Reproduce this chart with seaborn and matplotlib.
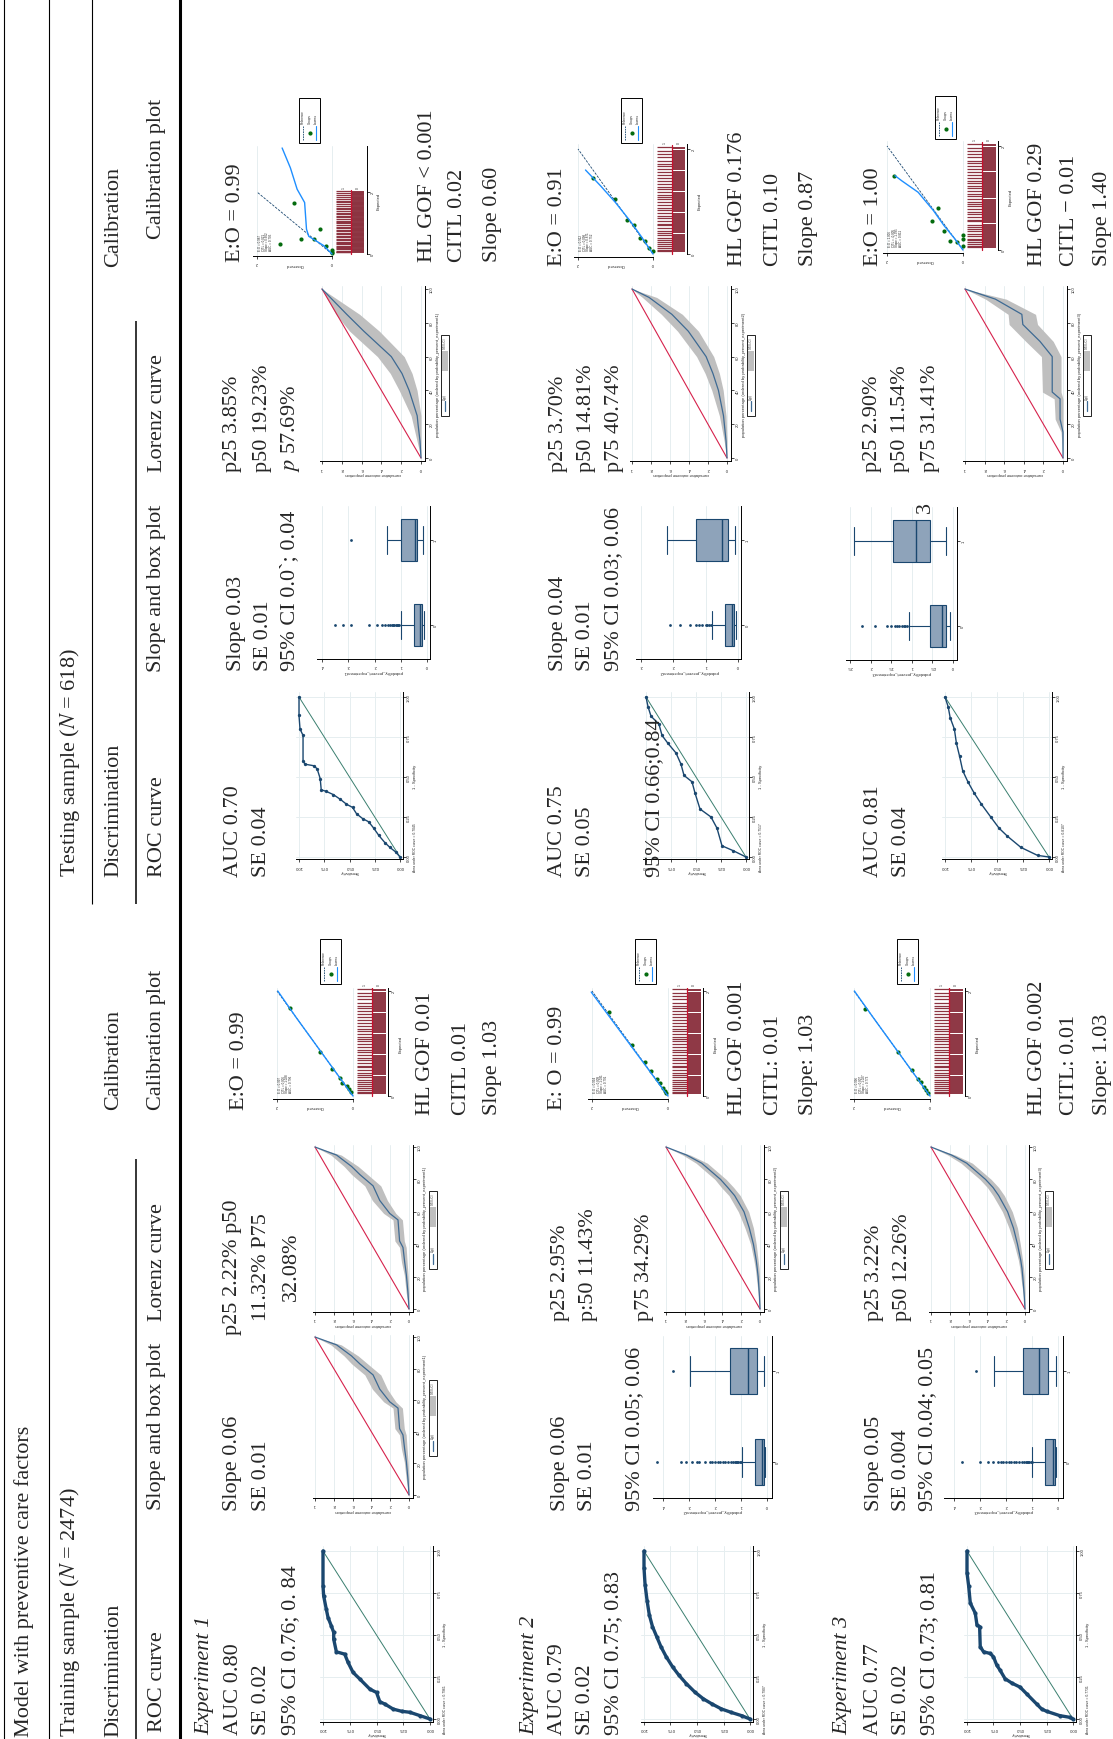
import numpy as np
import seaborn as sns
import matplotlib.pyplot as plt
import matplotlib.transforms as mtransforms
from matplotlib.lines import Line2D
from matplotlib.patches import Rectangle

# ------------------------------- DATA -----------------------------------------
# ROC curves: sensitivity vs 1 - specificity (training / testing, experiments 1-3)
roc_train_sens = [
    [0, .094, .188, .266, .344, .422, .469, .5, .5625, .656, .719, .766, .797, .875, .9, .9, .922, .953, .969, .994, 1.0, 1.0],
    [0, .08, .18, .27, .36, .44, .52, .60, .67, .73, .79, .84, .88, .92, .95, .97, .99, 1.0, 1.0],
    [0, .031, .125, .25, .297, .344, .4375, .5, .578, .641, .6875, .719, .75, .781, .844, .875, .881, .906, .922, .969, .984, 1.0, 1.0],
]
roc_train_spec = [
    [0, .02, .04, .046, .059, .089, .103, .158, .178, .238, .277, .337, .386, .40, .475, .515, .554, .604, .653, .733, .792, 1.0],
    [0, .02, .04, .06, .09, .12, .16, .21, .26, .31, .37, .43, .49, .55, .62, .70, .80, .90, 1.0],
    [0, .01, .02, .046, .06, .09, .15, .19, .214, .24, .29, .32, .37, .39, .40, .43, .55, .56, .63, .69, .79, .87, 1.0],
]
roc_test_sens = [
    [0, .04, .10, .15, .21, .26, .31, .37, .43, .47, .53, .59, .66, .73, .78, .79, .82, .85, .94, .96, .96, .99, 1.0, 1.0],
    [0, .13, .24, .29, .35, .46, .51, .54, .62, .65, .70, .78, .84, .87, .95, .98, 1.0],
    [0, .11, .27, .40, .48, .56, .65, .72, .78, .83, .86, .89, .91, .95, .97, 1.0],
]
roc_test_spec = [
    [0, .03, .06, .09, .135, .18, .22, .24, .27, .31, .33, .36, .39, .41, .42, .49, .55, .57, .58, .60, .76, .80, .885, 1.0],
    [0, .04, .07, .18, .25, .30, .40, .47, .51, .58, .65, .71, .76, .83, .88, .94, 1.0],
    [0, .01, .06, .13, .18, .25, .33, .40, .47, .54, .63, .71, .80, .87, .94, 1.0],
]
roc_train_notes = ['Area under ROC curve = 0.7961', 'Area under ROC curve = 0.7907', 'Area under ROC curve = 0.7731']
roc_test_notes = ['Area under ROC curve = 0.7045', 'Area under ROC curve = 0.7517', 'Area under ROC curve = 0.8107']

# Lorenz curves: population percentage, cumulative outcome proportion, 95% CI
lor_train_pop = [
    [0, 10, 21, 29, 38, 42, 55, 59, 67, 76, 83, 88, 95, 100],
    [0, 10, 20, 25, 30, 40, 50, 60, 70, 75, 80, 90, 95, 100],
    [0, 10, 20, 25, 30, 40, 50, 60, 70, 75, 80, 90, 95, 100],
]
lor_train_cum = [
    [0, .011, .028, .046, .064, .10, .117, .205, .311, .382, .523, .611, .77, 1.0],
    [0, .008, .02, .0295, .04, .07, .114, .17, .27, .343, .42, .62, .78, 1.0],
    [0, .01, .024, .032, .045, .08, .123, .185, .28, .34, .42, .62, .78, 1.0],
]
lor_train_lo = [
    [0, 0, .01, .02, .03, .05, .07, .14, .23, .30, .44, .54, .72, 1.0],
    [0, 0, .005, .01, .02, .04, .07, .12, .21, .28, .36, .56, .74, 1.0],
    [0, 0, .008, .015, .025, .05, .08, .135, .22, .28, .36, .56, .74, 1.0],
]
lor_train_hi = [
    [0, .03, .05, .08, .10, .15, .17, .27, .39, .47, .61, .69, .83, 1.0],
    [0, .02, .04, .05, .065, .10, .16, .23, .33, .41, .48, .68, .82, 1.0],
    [0, .022, .045, .055, .07, .115, .17, .24, .34, .40, .48, .68, .82, 1.0],
]
lor_test_pop = [
    [0, 10, 20, 25, 40, 50, 60, 75, 85, 100],
    [0, 10, 25, 40, 50, 60, 75, 85, 95, 100],
    [0, 15.4, 23, 35, 39, 60, 69, 79, 85, 94, 100],
]
lor_test_cum = [
    [0, .01, .03, .0385, .12, .192, .30, .577, .75, 1.0],
    [0, .01, .037, .09, .148, .22, .407, .58, .82, 1.0],
    [0, 0, .03, .03, .11, .11, .235, .41, .42, .69, 1.0],
]
lor_test_lo = [
    [0, 0, 0, 0, .04, .09, .17, .42, .62, 1.0],
    [0, 0, .01, .04, .08, .14, .30, .47, .74, 1.0],
    [0, 0, 0, 0, .02, .02, .10, .26, .28, .58, 1.0],
]
lor_test_hi = [
    [0, .04, .08, .10, .22, .31, .44, .72, .86, 1.0],
    [0, .03, .08, .16, .23, .32, .52, .69, .89, 1.0],
    [0, .02, .08, .09, .21, .22, .38, .55, .56, .79, 1.0],
]

# Box plots: (lower whisker, q1, median, q3, upper whisker) by outcome 0 / 1
box_train_stats = [
    None,
    [[.006, .011, .020, .048, .097], [.011, .039, .074, .143, .295]],
    [[.006, .013, .019, .050, .100], [.006, .038, .073, .135, .245]],
]
box_train_out0 = [
    None,
    [.10, .105, .11, .115, .12, .125, .13, .14, .15, .16, .17, .18, .19, .20, .21, .22, .24, .26, .27, .29, .31, .33, .425],
    [.10, .105, .11, .115, .12, .125, .13, .14, .15, .16, .17, .18, .19, .20, .21, .22, .23, .25, .27, .30, .37],
]
box_train_out1 = [None, [.36], [.315]]
box_test_stats = [
    [[.010, .019, .025, .051, .100], [.015, .038, .044, .100, .152]],
    [[.005, .012, .020, .040, .080], [.010, .030, .050, .130, .220]],
    [[.008, .016, .026, .056, .108], [.018, .056, .090, .146, .240]],
]
box_test_out0 = [
    [.105, .11, .115, .12, .125, .13, .135, .14, .15, .16, .17, .19, .22, .29, .32, .35],
    [.085, .09, .095, .10, .11, .12, .13, .15, .18, .21],
    [.112, .116, .12, .125, .13, .135, .14, .15, .16, .19, .22],
]
box_test_out1 = [[.29], [], []]

# Calibration plots: observed / expected for groups and lowess
cal_train_gobs = [[.05, .11, .16, .29, .33, .55, .88, 1.67],
                  [.04, .09, .14, .22, .30, .45, .60, .95, 1.55],
                  [.05, .10, .15, .24, .32, .48, .85, 1.70]]
cal_train_gexp = [[.08, .14, .19, .25, .35, .51, .83, 1.68],
                  [.05, .10, .16, .24, .33, .47, .65, .98, 1.60],
                  [.06, .12, .17, .26, .33, .50, .84, 1.66]]
cal_train_lobs = [[0, .5, 1.0, 1.5, 1.98], [0, .5, 1.0, 1.5, 2.02], [0, .5, 1.0, 1.5, 1.99]]
cal_train_lexp = [[0, .5, 1.0, 1.5, 2.0], [0, .49, .98, 1.47, 1.98], [0, .5, 1.0, 1.5, 2.0]]
cal_test_gobs = [[0, .16, .31, .49, .83, 1.38, 1.02, 0, 0],
                 [0, .10, .20, .35, .50, .70, 1.0, 1.6],
                 [.01, .01, .01, .17, .34, .50, .82, .66, 1.82]]
cal_test_gexp = [[.14, .27, .80, .48, .48, .32, 1.63, .05, .02],
                 [.05, .12, .25, .30, .55, .65, 1.05, 1.45],
                 [.08, .21, .29, .15, .18, .37, .56, .80, 1.43]]
cal_test_lobs = [[0, .22, .62, .68, .73, .93, 1.11, 1.33],
                 [0, .30, .60, 1.0, 1.40, 1.80],
                 [0, .21, .50, .78, 1.18, 1.61, 1.79]]
cal_test_lexp = [[0, .27, .57, .80, 1.66, 2.09, 2.78, 3.42],
                 [0, .32, .62, .98, 1.30, 1.60],
                 [0, .21, .47, .76, 1.11, 1.33, 1.43]]
cal_train_stats = [['E:O = 0.997', 'CITL = 0.006', 'Slope = 1.028', 'AUC = 0.796'],
                   ['E:O = 0.994', 'CITL = 0.009', 'Slope = 1.031', 'AUC = 0.791'],
                   ['E:O = 0.996', 'CITL = 0.007', 'Slope = 1.027', 'AUC = 0.773']]
cal_test_stats = [['E:O = 0.987', 'CITL = 0.021', 'Slope = 0.602', 'AUC = 0.705'],
                  ['E:O = 0.912', 'CITL = 0.098', 'Slope = 0.871', 'AUC = 0.752'],
                  ['E:O = 1.006', 'CITL = -0.005', 'Slope = 1.395', 'AUC = 0.811']]
# expected-probability rug (events above the base line, non-events below)
rug_events = [.05, .08, .11, .15, .19, .22, .27, .31, .36, .40, .44, .49, .55, .58, .63, .69, .73, .78, .84,
              .88, .93, .99, 1.04, 1.08, 1.13, 1.19, 1.24, 1.28, 1.33, 1.39, 1.45, 1.50, 1.56, 1.61, 1.67,
              1.72, 1.78, 1.84, 1.90, 1.97, 2.03]
rug_nonevents = [.05, .09, .13, .17, .21, .25, .29, .33, .37, .41, .45, .49, .53, .57, .61, .65, .69, .73,
                 .77, .81, .85, .89, .93, .97, 1.01, 1.05, 1.09, 1.13, 1.17, 1.21, 1.25, 1.29, 1.33, 1.37,
                 1.41, 1.45, 1.49, 1.53, 1.57, 1.61, 1.65, 1.69, 1.73, 1.77, 1.81, 1.85, 1.89, 1.93, 1.97, 2.01]

# Table text
headers_train = ['Training sample ($N$ = 2474)', 'Discrimination', 'Calibration']
headers_test = ['Testing sample ($N$ = 618)', 'Discrimination', 'Calibration']
col_names = ['ROC curve', 'Slope and box plot', 'Lorenz curve', 'Calibration plot']
exp_names = ['Experiment 1', 'Experiment 2', 'Experiment 3']
train_roc_text = [['AUC 0.80', 'SE 0.02', '95% CI 0.76; 0. 84'],
                  ['AUC 0.79', 'SE 0.02', '95% CI 0.75; 0.83'],
                  ['AUC 0.77', 'SE 0.02', '95% CI 0.73; 0.81']]
train_box_text = [['Slope 0.06', 'SE 0.01'],
                  ['Slope 0.06', 'SE 0.01', '95% CI 0.05; 0.06'],
                  ['Slope 0.05', 'SE 0.004', '95% CI 0.04; 0.05']]
train_lor_text = [['p25 2.22% p50', '11.32% P75', '32.08%'],
                  ['p25 2.95%', 'p:50 11.43%', 'p75 34.29%'],
                  ['p25 3.22%', 'p50 12.26%']]
train_eo_text = ['E:O = 0.99', 'E: O = 0.99', '']
train_cal_text = [['HL GOF 0.01', 'CITL 0.01', 'Slope 1.03'],
                  ['HL GOF 0.001', 'CITL: 0.01', 'Slope: 1.03'],
                  ['HL GOF 0.002', 'CITL: 0.01', 'Slope: 1.03']]
test_roc_text = [['AUC 0.70', 'SE 0.04'],
                 ['AUC 0.75', 'SE 0.05', '95% CI 0.66;0.84'],
                 ['AUC 0.81', 'SE 0.04']]
test_box_text = [['Slope 0.03', 'SE 0.01', '95% CI 0.0`; 0.04'],
                 ['Slope 0.04', 'SE 0.01', '95% CI 0.03; 0.06'],
                 []]
test_lor_text = [['p25 3.85%', 'p50 19.23%', '$p$ 57.69%'],
                 ['p25 3.70%', 'p50 14.81%', 'p75 40.74%'],
                 ['p25 2.90%', 'p50 11.54%', 'p75 31.41%']]
test_eo_text = ['E:O = 0.99', 'E:O = 0.91', 'E:O = 1.00']
test_cal_text = [['HL GOF < 0.001', 'CITL 0.02', 'Slope 0.60'],
                 ['HL GOF 0.176', 'CITL 0.10', 'Slope 0.87'],
                 ['HL GOF 0.29', 'CITL \u2212 0.01', 'Slope 1.40']]

# ------------------------------- STYLE ----------------------------------------
W, H = 1113, 1740
NAVY = '#1a476f'
LINE = '#3e6a93'
TEAL = '#3a7f6f'
CRIMSON = '#d6224c'
BAND = '#bfbfbf'
BOXFILL = '#8ea3ba'
GREEN = '#046b0e'
LOWESS = '#1f8fff'
RUGC = '#8c3441'
GRID = '#e6eef0'
SANS = 'Liberation Sans'
TFS = 3.0
DS = 16   # cell text size
HS = 16   # header size

sns.set_style('white')
plt.rcParams['font.family'] = ['Liberation Serif', 'DejaVu Serif']
plt.rcParams['mathtext.fontset'] = 'stix'

fig = plt.figure(figsize=(W / 100, H / 100), dpi=100)
fig.patch.set_facecolor('white')
# pixel coordinates, origin top-left
PX = mtransforms.Affine2D().scale(1 / W, -1 / H).translate(0, 1) + fig.transFigure


def vtext(x, y, s, size=DS, va='bottom', style='normal', family=None):
    kw = {'family': family} if family else {}
    fig.text(x, y, s, transform=PX, rotation=90, ha='center', va=va,
             fontsize=size, fontstyle=style, **kw)


def vline(x, y0, y1, lw):
    fig.add_artist(Line2D([x, x], [y0, y1], transform=PX, color='black', lw=lw,
                          solid_capstyle='butt'))


def rot_axes(href, vref, hlim, vlim):
    '''
    Axes for a graph turned 90 degrees: the horizontal axis carries the
    original y variable (growing leftwards), the vertical one the original x.
    href / vref: two (pixel, value) pairs each.
    '''
    (p0, a0), (p1, a1) = href
    (q0, b0), (q1, b1) = vref
    hp = [p0 + (v - a0) * (p1 - p0) / (a1 - a0) for v in hlim]
    vp = [q0 + (v - b0) * (q1 - q0) / (b1 - b0) for v in vlim]
    ax = fig.add_axes([min(hp) / W, 1 - max(vp) / H, abs(hp[1] - hp[0]) / W, abs(vp[1] - vp[0]) / H])
    xl = (hlim[0], hlim[1]) if hp[0] < hp[1] else (hlim[1], hlim[0])
    yl = (vlim[0], vlim[1]) if vp[0] > vp[1] else (vlim[1], vlim[0])
    return ax, xl, yl


def finish(ax, xl, yl, hticks, hlab, vticks, vlab, htitle, vtitle, grid_h=True, grid_v=False):
    ax.set_xlim(xl)
    ax.set_ylim(yl)
    ax.set_facecolor('white')
    ax.spines['top'].set_visible(False)
    ax.spines['left'].set_visible(False)
    for s in ('bottom', 'right'):
        ax.spines[s].set_visible(True)
        ax.spines[s].set_color('black')
        ax.spines[s].set_linewidth(0.7)
    ax.yaxis.tick_right()
    ax.yaxis.set_label_position('right')
    ax.set_xticks(hticks)
    ax.set_xticklabels(hlab, rotation=180, fontsize=TFS, family=SANS)
    ax.set_yticks(vticks)
    ax.set_yticklabels(vlab, rotation=90, va='center', fontsize=TFS, family=SANS)
    ax.tick_params(bottom=True, right=True, left=False, top=False, labelright=True,
                   labelleft=False, length=2, width=0.5, pad=1, color='black')
    if htitle:
        ax.set_xlabel(htitle, rotation=180, fontsize=TFS, family=SANS, labelpad=1)
    if vtitle:
        ax.set_ylabel(vtitle, rotation=90, fontsize=TFS, family=SANS, labelpad=1.5)
    ax.grid(False)
    if grid_h:
        ax.grid(True, axis='x', color=GRID, lw=0.7)
    if grid_v:
        ax.grid(True, axis='y', color=GRID, lw=0.7)
    ax.set_axisbelow(True)


# ----------------------------- MINI GRAPHS ------------------------------------
def roc_plot(hx, vy, sens, spec, note, lw, ms):
    ax, xl, yl = rot_axes(((hx[0], 0), (hx[1], 1)), ((vy[0], 0), (vy[1], 1)), (-0.03, 1.03), (-0.015, 1.03))
    ax.plot([0, 1], [0, 1], color=TEAL, lw=0.7)
    sns.lineplot(x=sens, y=spec, ax=ax, sort=False, estimator=None, color=NAVY, lw=lw,
                 marker='o', markersize=ms, markeredgewidth=0)
    t = [0, .25, .5, .75, 1]
    lab = ['0.00', '0.25', '0.50', '0.75', '1.00']
    finish(ax, xl, yl, t, lab, t, lab, 'Sensitivity', '1 - Specificity', True, True)
    vtext(hx[0] + 15, vy[0] + 14, note, size=2.4, family=SANS)


def lorenz_plot(hx, vy, pop, cum, lo, hi, k):
    ax, xl, yl = rot_axes(((hx[0], 0), (hx[1], 1)), ((vy[0], 0), (vy[1], 100)), (-0.045, 1.02), (-2, 101.5))
    ax.fill_betweenx(pop, lo, hi, color=BAND, lw=0)
    ax.plot([0, 1], [0, 100], color=CRIMSON, lw=0.8)
    sns.lineplot(x=cum, y=pop, ax=ax, sort=False, estimator=None, color=LINE, lw=0.9)
    finish(ax, xl, yl, [0, .2, .4, .6, .8, 1], ['0', '.2', '.4', '.6', '.8', '1'],
           [0, 20, 40, 60, 80, 100], ['0', '20', '40', '60', '80', '100'],
           'cumulative outcome proportion',
           f'population percentage (ordered by probability_prevent_experiment{k})', True, False)
    # legend box, turned with the graph
    py = lambda v: vy[0] + v * (vy[1] - vy[0]) / 100
    x0, x1 = hx[0] + 20, hx[0] + 28
    y0, y1 = py(73), py(25)
    xm = (x0 + x1) / 2
    fig.add_artist(Rectangle((x0, y0), x1 - x0, y1 - y0, transform=PX, fill=False, lw=0.6, ec='black'))
    fig.add_artist(Line2D([xm, xm], [y1 - 5, y1 - 15], transform=PX, color=LINE, lw=0.9))
    vtext(xm, y1 - 17, 'L(p)', size=2.3, va='bottom', family=SANS)
    fig.add_artist(Rectangle((x0 + 1.2, y0 + 16), x1 - x0 - 2.4, 20, transform=PX, color=BAND, lw=0))
    vtext(xm, y0 + 13, '95% CI', size=2.3, va='bottom', family=SANS)


def box_plot(hx, vy, hlim, vlim, st, out0, out1, ticks, labels, k):
    ax, xl, yl = rot_axes(((hx[0], 0), (hx[1], ticks[-1])), ((vy[0], 0), (vy[1], 1)), hlim, vlim)
    stats = [dict(whislo=s[0], q1=s[1], med=s[2], q3=s[3], whishi=s[4], fliers=[]) for s in st]
    ax.bxp(stats, positions=[0, 1], widths=0.5, capwidths=0.32, orientation='horizontal',
           patch_artist=True, showfliers=False,
           boxprops=dict(facecolor=BOXFILL, edgecolor=NAVY, lw=0.8),
           medianprops=dict(color=NAVY, lw=1.0),
           whiskerprops=dict(color=NAVY, lw=0.8), capprops=dict(color=NAVY, lw=0.8))
    if out0:
        sns.scatterplot(x=out0, y=[0] * len(out0), ax=ax, color=NAVY, s=4, linewidth=0)
    if out1:
        sns.scatterplot(x=out1, y=[1] * len(out1), ax=ax, color=NAVY, s=4, linewidth=0)
    finish(ax, xl, yl, ticks, labels, [0, 1], ['0', '1'],
           f'probability_prevent_experiment{k}', '', True, False)


def cal_plot(hx, vy, vtop, gobs, gexp, lobs, lexp, stats, leg):
    ax, xl, yl = rot_axes(((hx[0], 0), (hx[1], 2)), ((vy[0], 0), (vy[1], 2)), (-0.92, 2.1), (-0.05, vtop))
    ax.hlines(rug_events, -0.5, -0.1, color=RUGC, lw=0.9)
    ax.hlines(rug_nonevents, -0.86, -0.5, color=RUGC, lw=1.4)
    ax.plot([-0.5, -0.5], [0, 2.08], color='#c8102e', lw=0.9)
    ax.plot([0, 2], [0, 2], ls=(0, (3, 1.5)), color=NAVY, lw=0.6)
    sns.lineplot(x=lobs, y=lexp, ax=ax, sort=False, estimator=None, color=LOWESS, lw=1.0)
    sns.scatterplot(x=gobs, y=gexp, ax=ax, color=GREEN, s=9, linewidth=0)
    finish(ax, xl, yl, [0, 2], ['0', '2'], [0, 2], ['0', '2'], '', 'Expected', True, False)
    ax.spines['bottom'].set_bounds(0, 2.1)
    ax.spines['right'].set_bounds(0, vtop)
    px = lambda v: hx[0] + v * (hx[1] - hx[0]) / 2
    pyy = lambda v: vy[0] + v * (vy[1] - vy[0]) / 2
    fig.text(px(1), vy[0] + 10, 'Observed', transform=PX, rotation=180, ha='center', va='center',
             fontsize=TFS, family=SANS)
    for i, s in enumerate(stats):
        vtext(px(2) + 3 + 3.6 * i, vy[0] - 4, s, size=2.2, family=SANS)
    vtext(px(-0.3), pyy(2.12), '1', size=2.4, family=SANS)
    vtext(px(-0.68), pyy(2.12), '0', size=2.4, family=SANS)
    # legend
    x0, y0, x1, y1 = leg
    fig.add_artist(Rectangle((x0, y0), x1 - x0, y1 - y0, transform=PX, fill=False, lw=0.7, ec='black'))
    cx = [x0 + 4, x0 + 10.5, x0 + 17]
    fig.add_artist(Line2D([cx[0], cx[0]], [y1 - 3, y1 - 17], transform=PX, color=NAVY, lw=0.6, ls=(0, (2, 1))))
    fig.add_artist(Line2D([cx[1]], [y1 - 10], transform=PX, marker='o', color=GREEN, ms=2, lw=0))
    fig.add_artist(Line2D([cx[2], cx[2]], [y1 - 3, y1 - 17], transform=PX, color=LOWESS, lw=0.8))
    for x, s in zip(cx, ['Reference', 'Groups', 'Lowess']):
        vtext(x, y1 - 20, s, size=2.2, family=SANS)


# ------------------------------- TABLE ----------------------------------------
vline(4, 0, H, 0.8)
vline(49, 0, H, 0.8)
vline(92, 0, 905, 0.8)
vline(136, 322, 905, 1.1)
vline(136, 1160, H, 1.1)
vline(180, 0, H, 2.2)

vtext(24, 1737, 'Model with preventive care factors', HS)
vtext(70, 1737, headers_train[0], HS)
vtext(70, 877, headers_test[0], HS)
vtext(114, 1737, headers_train[1], HS)
vtext(114, 877, headers_test[1], HS)
vtext(114, 1110, headers_train[2], HS)
vtext(114, 267, headers_test[2], HS)
for name, yt, ys in zip(col_names, [1732, 1510, 1321, 1110], [877, 672, 472, 239]):
    vtext(157, yt, name, HS)
    vtext(157, ys, name, HS)

# text of the cells
exp_x = [205, 530, 843]
for k in range(3):
    vtext(exp_x[k], 1735, exp_names[k], style='italic')


def lines(xs, y, items, va='bottom'):
    for x, s in zip(xs, items):
        vtext(x, y, s, va=va)


lines([233, 262, 291], 1735, train_roc_text[0])
lines([558, 586, 614], 1735, train_roc_text[1])
lines([873, 901, 930], 1735, train_roc_text[2])
lines([233, 262], 1511, train_box_text[0])
lines([560, 588, 635], 1511, train_box_text[1])
lines([875, 902, 928], 1511, train_box_text[2])
lines([233, 262, 291], 1267, train_lor_text[0], va='center')
lines([560, 588, 645], 1321, train_lor_text[1])
lines([875, 903], 1321, train_lor_text[2])
lines([239], 1110, train_eo_text[:1])
lines([558], 1110, train_eo_text[1:2])
lines([425, 461, 493], 1115, train_cal_text[0])
lines([738, 773, 808], 1115, train_cal_text[1])
lines([1037, 1070, 1103], 1115, train_cal_text[2])

lines([233, 262], 877, test_roc_text[0])
lines([558, 586, 655], 877, test_roc_text[1])
lines([873, 901], 877, test_roc_text[2])
lines([237, 263, 290], 671, test_box_text[0])
lines([558, 586, 614], 671, test_box_text[1])
vtext(925, 513, '3')
lines([233, 262, 291], 472, test_lor_text[0])
lines([558, 586, 614], 472, test_lor_text[1])
lines([873, 901, 930], 472, test_lor_text[2])
lines([235], 262, test_eo_text[:1])
lines([558], 266, test_eo_text[1:2])
lines([873], 266, test_eo_text[2:])
lines([427, 458, 492], 262, test_cal_text[0])
lines([738, 773, 808], 266, test_cal_text[1])
lines([1037, 1070, 1103], 266, test_cal_text[2])

# ROC graphs
train_roc_hx = [(430, 323), (750, 644), (1073, 967)]
test_roc_hx = [(400, 299), (746, 646), (1049, 945)]
for k in range(3):
    roc_plot(train_roc_hx[k], (1720, 1552), roc_train_sens[k], roc_train_spec[k], roc_train_notes[k], 2.4, 3.0)
    roc_plot(test_roc_hx[k], (858, 698), roc_test_sens[k], roc_test_spec[k], roc_test_notes[k], 1.0, 2.4)

# Lorenz graphs (experiment 1 training shows a second Lorenz curve in the box column)
lorenz_plot((409, 315), (1496, 1338), lor_train_pop[0], lor_train_cum[0], lor_train_lo[0], lor_train_hi[0], 1)
train_lor_hx = [(409, 315), (760, 666), (1025, 931)]
test_lor_hx = [(421, 322), (727, 632), (1063, 965)]
for k in range(3):
    lorenz_plot(train_lor_hx[k], (1310, 1148), lor_train_pop[k], lor_train_cum[k], lor_train_lo[k], lor_train_hi[k], k + 1)
    lorenz_plot(test_lor_hx[k], (459, 290), lor_test_pop[k], lor_test_cum[k], lor_test_lo[k], lor_test_hi[k], k + 1)

# box plots
t4 = [0, .1, .2, .3, .4]
l4 = ['0', '.1', '.2', '.3', '.4']
box_plot((767, 663), (1463, 1372), (-0.02, 0.44), (-0.4, 1.38), box_train_stats[1],
         box_train_out0[1], box_train_out1[1], t4, l4, 2)
box_plot((1058, 954), (1463, 1372), (-0.02, 0.44), (-0.4, 1.38), box_train_stats[2],
         box_train_out0[2], box_train_out1[2], t4, l4, 3)
box_plot((427, 322), (626, 541), (-0.01, 0.42), (-0.4, 1.4), box_test_stats[0],
         box_test_out0[0], box_test_out1[0], t4, l4, 1)
box_plot((738, 641), (626, 541), (-0.01, 0.315), (-0.4, 1.4), box_test_stats[1],
         box_test_out0[1], box_test_out1[1], [0, .1, .2, .3], ['0', '.1', '.2', '.3'], 2)
box_plot((953, 850), (627, 542), (-0.01, 0.26), (-0.4, 1.4), box_test_stats[2],
         box_test_out0[2], box_test_out1[2], [0, .05, .1, .15, .2, .25],
         ['0', '.05', '.1', '.15', '.2', '.25'], 3)

# calibration graphs
train_cal_hx = [(353, 277), (668, 592), (930, 854)]
train_leg = [(320, 940, 341, 985), (635, 940, 656, 985), (897, 940, 918, 985)]
for k in range(3):
    cal_plot(train_cal_hx[k], (1097, 992), 2.06, cal_train_gobs[k], cal_train_gexp[k],
             cal_train_lobs[k], cal_train_lexp[k], cal_train_stats[k], train_leg[k])
cal_plot((332, 257), (255, 193), 3.5, cal_test_gobs[0], cal_test_gexp[0], cal_test_lobs[0],
         cal_test_lexp[0], cal_test_stats[0], (299, 99, 320, 144))
cal_plot((653, 578), (255, 150), 2.1, cal_test_gobs[1], cal_test_gexp[1], cal_test_lobs[1],
         cal_test_lexp[1], cal_test_stats[1], (621, 99, 642, 144))
cal_plot((963, 887), (251, 147), 2.1, cal_test_gobs[2], cal_test_gexp[2], cal_test_lobs[2],
         cal_test_lexp[2], cal_test_stats[2], (935, 97, 956, 140))

fig.savefig('out.png', dpi=100, facecolor='white')
